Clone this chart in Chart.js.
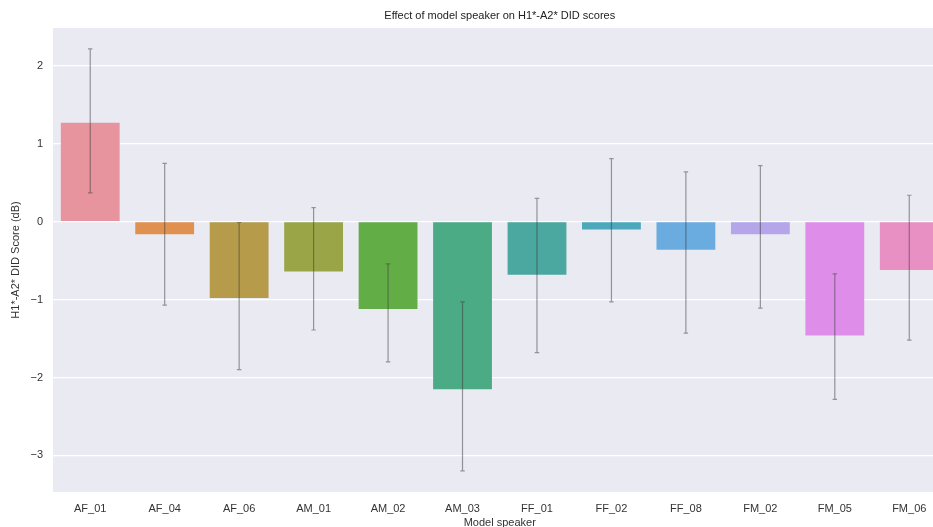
<!DOCTYPE html>
<html>
<head>
<meta charset="utf-8">
<script src="https://cdn.jsdelivr.net/npm/chart.js@4"></script>
<style>
  html, body { margin: 0; padding: 0; background: #ffffff; overflow: hidden; }
  #wrap { width: 933px; height: 527px; overflow: hidden; position: relative; }
  #c { display: block; }
</style>
</head>
<body>
<div id="wrap"><canvas id="c" width="960" height="527"></canvas></div>
<script>
const categories = ["AF_01","AF_04","AF_06","AM_01","AM_02","AM_03","FF_01","FF_02","FF_08","FM_02","FM_05","FM_06"];
const meanScores = [1.27, -0.16, -0.98, -0.64, -1.12, -2.15, -0.68, -0.10, -0.36, -0.16, -1.46, -0.62];
const errLow =  [0.37, -1.07, -1.90, -1.39, -1.80, -3.20, -1.68, -1.03, -1.43, -1.11, -2.28, -1.52];
const errHigh = [2.22, 0.75, -0.01, 0.18, -0.54, -1.03, 0.30, 0.81, 0.64, 0.72, -0.67, 0.34];
const barColors = ["#E8949F","#E1914F","#B69B4A","#9AA548","#63AD47","#4AAB85","#4AA8A0","#4DA8BC","#6AACE0","#B5A6EA","#DE8EE8","#E88FC3"];
const yTicks = [-3, -2, -1, 0, 1, 2];

const FONT = "'Liberation Sans', Arial, sans-serif";
const TXT = "#333333";

const bgPlugin = {
  id: 'bg',
  beforeDraw(chart) {
    const a = chart.chartArea, ctx = chart.ctx;
    ctx.save();
    ctx.fillStyle = '#EAEAF2';
    ctx.fillRect(a.left, a.top, a.right - a.left, a.bottom - a.top);
    ctx.restore();
  }
};

const errPlugin = {
  id: 'errbars',
  afterDatasetsDraw(chart) {
    const ctx = chart.ctx, xs = chart.scales.x, ys = chart.scales.y;
    ctx.save();
    ctx.strokeStyle = 'rgba(60,60,60,0.5)';
    ctx.lineWidth = 1.2;
    categories.forEach((c, i) => {
      const x = xs.getPixelForValue(i);
      const y1 = ys.getPixelForValue(errLow[i]);
      const y2 = ys.getPixelForValue(errHigh[i]);
      ctx.beginPath();
      ctx.moveTo(x, y1); ctx.lineTo(x, y2);
      ctx.moveTo(x - 2.2, y1); ctx.lineTo(x + 2.2, y1);
      ctx.moveTo(x - 2.2, y2); ctx.lineTo(x + 2.2, y2);
      ctx.stroke();
    });
    ctx.restore();
  }
};

new Chart(document.getElementById('c'), {
  type: 'bar',
  data: {
    labels: categories,
    datasets: [{
      data: meanScores,
      backgroundColor: barColors,
      borderWidth: 0,
      categoryPercentage: 1.0,
      barPercentage: 0.79
    }]
  },
  plugins: [bgPlugin, errPlugin],
  options: {
    responsive: false,
    animation: false,
    devicePixelRatio: 1,
    layout: { padding: { left: 0, right: 13.5, top: 0, bottom: 0 } },
    plugins: {
      legend: { display: false },
      tooltip: { enabled: false },
      title: {
        display: true,
        text: 'Effect of model speaker on H1*-A2* DID scores',
        fullSize: false,
        color: '#222222',
        font: { family: FONT, size: 11, weight: 'normal' },
        padding: { top: 9, bottom: 5.8 }
      }
    },
    scales: {
      x: {
        grid: { display: false, drawTicks: false },
        border: { display: false },
        ticks: { color: TXT, font: { family: FONT, size: 11 }, padding: 10, maxRotation: 0, autoSkip: false },
        title: { display: true, text: 'Model speaker', color: TXT, font: { family: FONT, size: 11 }, padding: { top: 0, bottom: -2.5 } },
        afterFit(scale) { scale.height = 35; }
      },
      y: {
        min: -3.47,
        max: 2.487,
        grid: { color: '#FFFFFF', lineWidth: 1.2, drawTicks: false },
        border: { display: false },
        ticks: {
          color: TXT, font: { family: FONT, size: 11 }, padding: 10,
          callback: (v) => (v < 0 ? '\u2212' + Math.abs(v) : String(v))
        },
        afterBuildTicks(scale) { scale.ticks = yTicks.map(v => ({ value: v })); },
        title: { display: true, text: 'H1*-A2* DID Score (dB)', color: TXT, font: { family: FONT, size: 11 }, padding: { top: 9, bottom: 0 } },
        afterFit(scale) { scale.width = 53; }
      }
    }
  }
});
</script>
</body>
</html>
